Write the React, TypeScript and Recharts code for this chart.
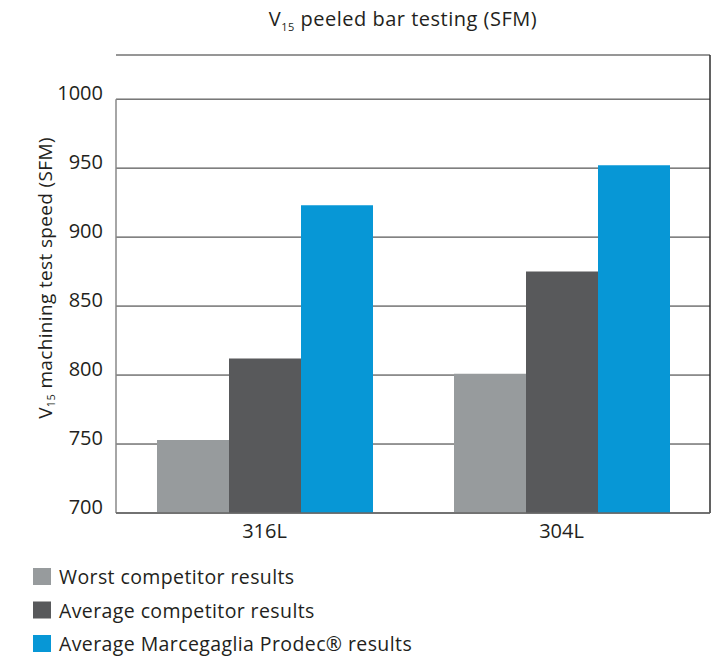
import React from 'react';
import { BarChart, Bar, XAxis, YAxis, CartesianGrid, Legend, ReferenceLine } from 'recharts';

const categories = ['316L', '304L'];
const worstCompetitor = [753, 801];
const averageCompetitor = [812, 875];
const averageProdec = [923, 952];
const yTicks = [700, 750, 800, 850, 900, 950, 1000];

const seriesNames = [
  'Worst competitor results',
  'Average competitor results',
  'Average Marcegaglia Prodec® results',
];
const seriesColors = ['#979b9d', '#58595b', '#0797d6'];

const data = categories.map((c, i) => ({
  category: c,
  worst: worstCompetitor[i],
  average: averageCompetitor[i],
  prodec: averageProdec[i],
}));

const FONT = '"Open Sans", "Noto Sans", sans-serif';
const TEXT = '#231f20';

const YTick = (props: any) => {
  const { x, y, payload } = props;
  return (
    <text x={x} y={y + 1} textAnchor="end" fontFamily={FONT} fontSize={20} fill={TEXT}>
      {payload.value}
    </text>
  );
};

const XTick = (props: any) => {
  const { x, y, payload } = props;
  return (
    <text x={x} y={y + 25} textAnchor="middle" fontFamily={FONT} fontSize={20} fill={TEXT}>
      {payload.value}
    </text>
  );
};

const YLabel = () => {
  const cx = 37;
  const cy = 270;
  return (
    <text
      x={cx}
      y={cy}
      transform={`rotate(-90, ${cx}, ${cy})`}
      textAnchor="middle"
      dominantBaseline="central"
      fontFamily={FONT}
      fontSize={19}
      letterSpacing={0.35}
      fill={TEXT}
    >
      V<tspan fontSize={11} dy={5}>15</tspan>
      <tspan dy={-5}> machining test speed (SFM)</tspan>
    </text>
  );
};

const LegendContent = (props: any) => {
  const payload = [...(props.payload || [])].sort(
    (a: any, b: any) => seriesNames.indexOf(a.value) - seriesNames.indexOf(b.value)
  );
  return (
    <svg width={450} height={100} style={{ display: 'block', overflow: 'visible' }}>
      {payload.map((p: any, i: number) => (
        <g key={i}>
          <rect x={0} y={i * 33.5} width={18} height={17} fill={p.color} />
          <text
            x={26}
            y={i * 33.5 + 16}
            fontFamily={FONT}
            fontSize={19.5}
            letterSpacing={0.4}
            fill={TEXT}
          >
            {p.value}
          </text>
        </g>
      ))}
    </svg>
  );
};

export default function App() {
  return (
    <div style={{ position: 'relative', width: 714, height: 649 }}>
      <svg
        width={714}
        height={40}
        style={{ position: 'absolute', left: 0, top: 0, overflow: 'visible' }}
      >
        <text
          x={395}
          y={18}
          textAnchor="middle"
          fontFamily={FONT}
          fontSize={20}
          letterSpacing={0.5}
          fill={TEXT}
        >
          V<tspan fontSize={11} dy={5}>15</tspan>
          <tspan dy={-5}> peeled bar testing (SFM)</tspan>
        </text>
      </svg>
      <BarChart
        width={714}
        height={649}
        data={data}
        margin={{ top: 47, right: 12, bottom: 114, left: 0 }}
        barGap={0}
        barSize={72}
      >
        <CartesianGrid horizontal vertical={false} stroke="#2e2e2e" strokeWidth={1} />
        <XAxis
          dataKey="category"
          tickLine={false}
          tickSize={0}
          tickMargin={0}
          axisLine={{ stroke: '#666', strokeWidth: 1.5 }}
          tick={<XTick />}
          height={30}
        />
        <YAxis
          domain={[700, 1032]}
          ticks={yTicks}
          allowDataOverflow
          tickLine={false}
          axisLine={false}
          tickSize={0}
          tickMargin={13}
          width={108}
          tick={<YTick />}
          label={<YLabel />}
        />
        <ReferenceLine
          segment={[{ x: '316L', y: 700 }, { x: '316L', y: 1000 }]}
          position="start"
          stroke="#888"
          strokeWidth={1.5}
        />
        <ReferenceLine x="304L" position="end" stroke="#2e2e2e" strokeWidth={1.5} />
        <Bar dataKey="worst" name={seriesNames[0]} fill={seriesColors[0]} isAnimationActive={false} />
        <Bar dataKey="average" name={seriesNames[1]} fill={seriesColors[1]} isAnimationActive={false} />
        <Bar dataKey="prodec" name={seriesNames[2]} fill={seriesColors[2]} isAnimationActive={false} />
        <Legend
          layout="horizontal"
          verticalAlign="middle"
          align="center"
          content={<LegendContent />}
          wrapperStyle={{ left: 25, top: 560, width: 450, height: 100 }}
        />
      </BarChart>
    </div>
  );
}
